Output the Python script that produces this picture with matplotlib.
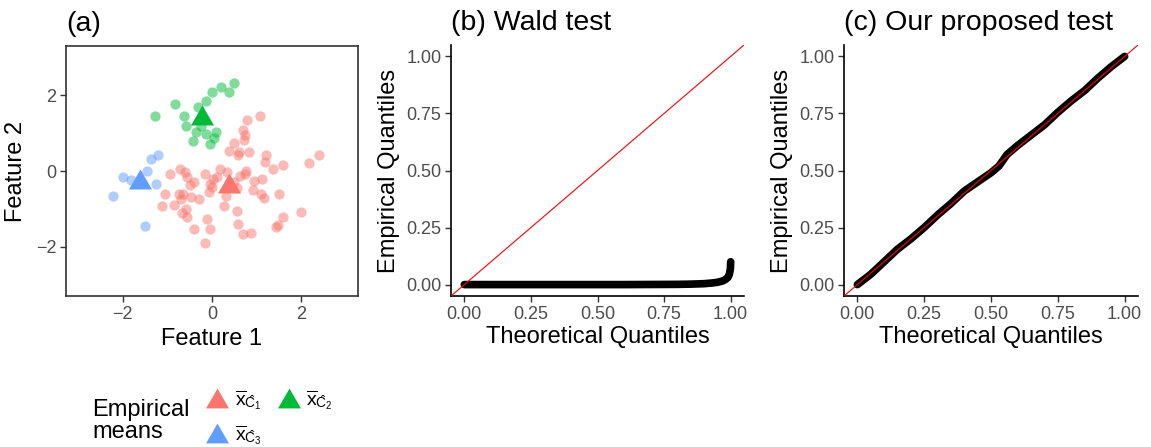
import numpy as np
import matplotlib
matplotlib.use("Agg")
import matplotlib.pyplot as plt
from matplotlib.lines import Line2D

plt.rcParams['font.family'] = ['Liberation Sans', 'DejaVu Sans']
plt.rcParams['mathtext.fontset'] = 'custom'
plt.rcParams['mathtext.rm'] = 'Liberation Sans'
plt.rcParams['mathtext.it'] = 'Liberation Sans:italic'

# ---- data: panel (a) clusters ----
red_x = [1.07, 0.79, 0.70, 0.75, 0.71, 0.50, 0.37, 0.60, 0.82, 0.58, 1.21, 1.18, 1.37, 1.60,
         2.17, 2.40, 0.77, 0.75, 0.62, 0.95, 1.13, 0.92, 1.09, 1.16, 1.51, 0.56, 1.99, 1.59,
         1.48, 1.44, 0.88, 0.70, 0.58, 0.56, 0.26, 0.32, -0.16, -0.41, -0.05, -0.11, -0.56,
         -0.67, -0.58, -0.85, -1.12, -0.30, -0.47, -0.64, -0.75, -1.05, -0.07, -0.04, 0.02,
         0.19, -0.15, -0.41, -0.49, -0.55, -0.61, -0.71, -0.94, 0.11, 0.34, 0.49, -0.70, 0.00]
red_y = [1.46, 1.35, 1.07, 0.94, 0.82, 0.74, 0.53, 0.50, 0.50, 0.41, 0.41, 0.24, 0.06, 0.17,
         0.21, 0.43, 0.00, -0.07, -0.14, -0.26, -0.21, -0.51, -0.62, -0.71, -0.62, -0.46, -1.08,
         -1.21, -1.43, -1.49, -1.63, -1.65, -1.39, -1.05, -0.92, -0.66, -1.91, -1.54, -1.52,
         -1.27, -1.21, -1.12, -0.99, -0.90, -0.93, -0.75, -0.68, -0.62, -0.62, -0.62, -0.55,
         -0.33, -0.20, 0.04, -0.07, -0.29, -0.36, -0.16, -0.03, 0.06, -0.09, -0.16, -0.03,
         -0.29, -0.75, -0.42]
green_x = [0.49, 0.20, 0.37, 0.01, -0.13, -0.82, -0.32, -1.27, -0.62, -0.58, -0.24, -0.36,
           0.09, -0.13, 0.04, -0.43, -0.04]
green_y = [2.32, 2.21, 2.08, 2.08, 1.86, 1.77, 1.68, 1.44, 1.44, 1.20, 1.18, 1.03, 1.03,
           0.98, 0.88, 0.79, 0.70]
blue_x = [-1.22, -1.37, -1.45, -1.99, -1.82, -1.25, -2.21, -1.51]
blue_y = [0.41, 0.31, -0.01, -0.17, -0.23, -0.33, -0.65, -1.46]

# empirical means (triangles)
mean_x = [0.37, -0.22, -1.61]
mean_y = [-0.32, 1.49, -0.20]
mean_labels = [r'$\overline{\mathrm{x}}_{\hat{\mathrm{C}}_1}$',
               r'$\overline{\mathrm{x}}_{\hat{\mathrm{C}}_2}$',
               r'$\overline{\mathrm{x}}_{\hat{\mathrm{C}}_3}$']
cols = ['#F8766D', '#00BA38', '#619CFF']

# ---- data: QQ plots ----
wald_theo = [0.0, 0.10, 0.20, 0.30, 0.40, 0.50, 0.60, 0.70, 0.80, 0.85, 0.90, 0.93, 0.95,
             0.97, 0.98, 0.99, 0.995, 0.999, 1.0]
wald_emp = [0.0, 0.0, 0.0, 0.0, 0.0, 0.0, 0.0, 0.0005, 0.001, 0.002, 0.004, 0.007, 0.010,
            0.016, 0.022, 0.032, 0.045, 0.07, 0.10]
ours_theo = [0.0, 0.05, 0.10, 0.15, 0.20, 0.25, 0.30, 0.35, 0.40, 0.45, 0.50, 0.53, 0.56,
             0.60, 0.65, 0.70, 0.75, 0.80, 0.85, 0.90, 0.95, 1.0]
ours_emp = [0.0, 0.045, 0.10, 0.155, 0.20, 0.25, 0.305, 0.355, 0.41, 0.45, 0.49, 0.52, 0.57,
            0.61, 0.655, 0.70, 0.755, 0.805, 0.85, 0.905, 0.955, 1.0]
qq_ticks = [0, 0.25, 0.5, 0.75, 1.0]

W, H = 1151, 447
fig = plt.figure(figsize=(W / 100, H / 100), dpi=100)

def px_axes(l, t, r, b):
    return fig.add_axes([l / W, 1 - b / H, (r - l) / W, (b - t) / H])

tick_kw = dict(labelsize=13, labelcolor='#4D4D4D', length=4, width=1.0, pad=3)

# panel (a)
ax = px_axes(66, 46, 358, 296)
ax.scatter(red_x, red_y, s=55, color=cols[0], alpha=0.5, lw=0)
ax.scatter(green_x, green_y, s=55, color=cols[1], alpha=0.5, lw=0)
ax.scatter(blue_x, blue_y, s=55, color=cols[2], alpha=0.5, lw=0)
tri = [(-1, -0.866), (1, -0.866), (0, 0.866)]
for i in range(3):
    ax.scatter(mean_x[i], mean_y[i], s=275, marker=tri, color=cols[i], lw=0, zorder=3)
ax.set_xlim(-3.27, 3.27)
ax.set_ylim(-3.3, 3.3)
ax.set_xticks([-2, 0, 2])
ax.set_yticks([-2, 0, 2])
for sp in ax.spines.values():
    sp.set_color('#333333')
    sp.set_linewidth(1.2)
ax.tick_params(color='#333333', **tick_kw)
ax.set_xlabel('Feature 1', fontsize=17, labelpad=4)
ax.set_ylabel('Feature 2', fontsize=17, labelpad=6)
ax.set_title('(a)', loc='left', fontsize=20.5, pad=11)

# panels (b) and (c)
for (l, r), title, tx, ty in [((451, 744), '(b) Wald test', wald_theo, wald_emp),
                              ((844, 1138), '(c) Our proposed test', ours_theo, ours_emp)]:
    ax = px_axes(l, 45, r, 296)
    ax.plot(tx, ty, color='black', lw=5.5, solid_capstyle='round', solid_joinstyle='round')
    ax.axline((0, 0), slope=1, color='red', lw=0.8, zorder=3)
    ax.set_xlim(-0.05, 1.05)
    ax.set_ylim(-0.05, 1.05)
    ax.set_xticks(qq_ticks)
    ax.set_yticks(qq_ticks)
    ax.set_xticklabels([f'{v:.2f}' for v in qq_ticks])
    ax.set_yticklabels([f'{v:.2f}' for v in qq_ticks])
    ax.spines['top'].set_visible(False)
    ax.spines['right'].set_visible(False)
    for s in ['left', 'bottom']:
        ax.spines[s].set_linewidth(1.2)
    ax.tick_params(color='#333333', **tick_kw)
    ax.set_xlabel('Theoretical Quantiles', fontsize=17, labelpad=2)
    ax.set_ylabel('Empirical Quantiles', fontsize=17, labelpad=4)
    ax.set_title(title, loc='left', fontsize=20.5, pad=11)

# legend
handles = [Line2D([], [], ls='', marker=tri, markersize=16.5, color=c, mew=0) for c in cols]
order = [0, 2, 1]
fig.legend([handles[i] for i in order], [mean_labels[i] for i in order], ncol=2,
           loc='upper left', bbox_to_anchor=(196 / W, 1 - 378 / H), frameon=False,
           fontsize=14, handlelength=1.2, handletextpad=0.3, columnspacing=0.8,
           labelspacing=0.6, borderpad=0)
fig.text(92 / W, 1 - 421 / H, 'Empirical\nmeans', fontsize=17, ha='left', va='center',
         linespacing=1.0)

fig.savefig('out.png', dpi=100)
